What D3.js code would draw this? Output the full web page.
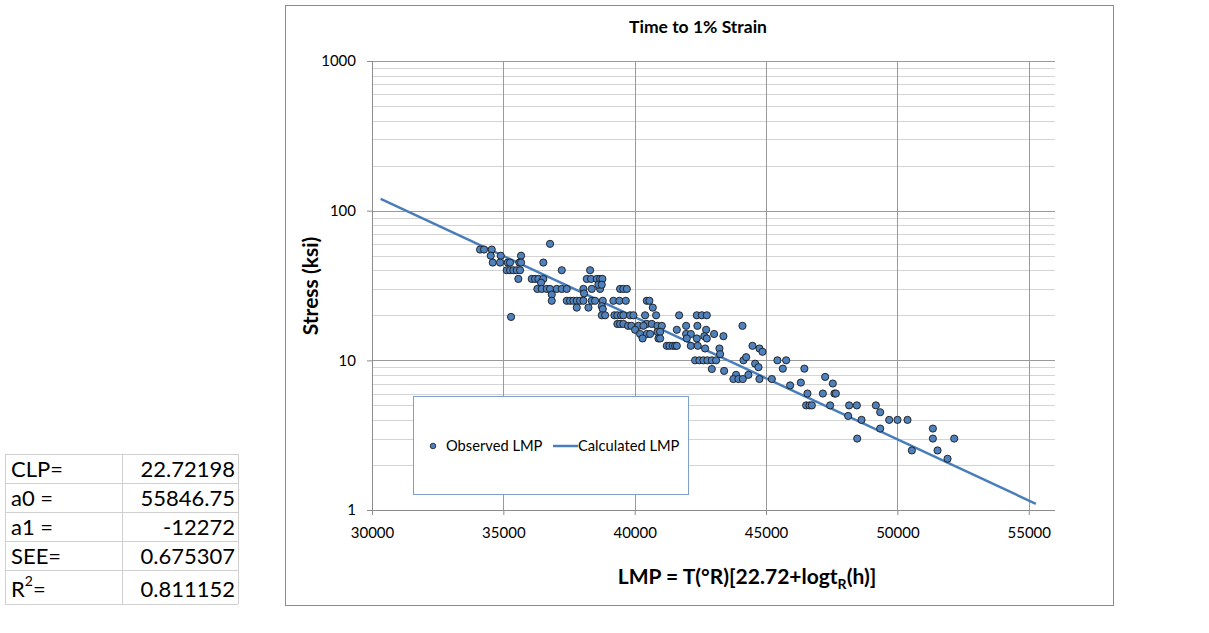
<!DOCTYPE html>
<html lang="en">
<head>
  <meta charset="UTF-8">
  <title>Time to 1% Strain</title>
  <script src="https://cdn.jsdelivr.net/npm/d3@7"></script>
  <style>
    body { margin: 0; background: #fff; }
    svg { font-family: Lato, 'Liberation Sans', Arial, sans-serif; }
    .axis text { font-size: 15px; fill: #000; font-family: Lato, sans-serif; }
    .axis path { display: none; }
    .title { font-size: 17.5px; font-weight: 700; }
    .axisLabel { font-size: 21px; font-weight: 700; }
    .tbl { font-size: 22px; }
  </style>
</head>
<body>
<div class="container"></div>
<script>
  // observed points, grouped by stress level (ksi) -> LMP values
  var obsStress = [
    55, 55, 55,
    50, 50, 50,
    45, 45, 45, 45, 45, 45, 45,
    40, 40, 40, 40, 40, 40, 40,
    35, 35, 35, 35, 35, 35, 35, 35, 35, 35,
    33, 60, 19.5,
    30, 30, 30, 30, 30, 30, 30, 30, 30, 30, 30, 30, 30,
    32, 32, 28, 27.5,
    25, 25, 25, 25, 25, 25, 25, 25, 25, 25, 25, 25, 25, 25, 25,
    22.5, 22.5, 22.5, 23, 22,
    20, 20, 20, 20, 20, 20, 20, 20, 20, 20, 20, 20, 20, 20,
    17.5, 17.5, 17.5, 17.5, 17.5,
    17, 17, 17, 17, 17, 17, 17, 17, 17,
    16, 16, 16, 15.5, 15.5,
    15, 15, 15, 15, 15, 15,
    14.5, 14.5, 14, 14, 14, 14, 14, 14,
    12.5, 12.5, 12.5, 12.5, 12.5, 12.5, 12.5, 12.5,
    12, 12, 12, 11.4, 11,
    10, 10, 10, 10, 10, 10, 10, 10, 10, 10.5,
    9.5, 9, 8.75, 8.8, 8.8, 8.5,
    8, 8, 7.5, 7.5, 7.5, 7.5, 7.5,
    7.75, 7.1, 7, 6.8,
    6, 6, 6, 6,
    5, 5, 5, 5, 5, 5, 5,
    4.5, 4.25, 4, 4, 4, 4,
    3.5, 3.5, 3, 3, 3,
    2.5, 2.5, 2.2
  ];
  var obsLMP = [
    34113, 34265, 34558,
    34520, 34901, 35674,
    34596, 34874, 35167, 35255, 35609, 35674, 36523,
    35129, 35255, 35381, 35510, 35636, 37224, 38302,
    35571, 36081, 36207, 36333, 36523, 38176, 38340, 38557, 38683, 38771,
    36435, 36778, 35293,
    36295, 36462, 36653, 36778, 37033, 37224, 37414, 38048, 38366, 38683, 39444, 39570, 39700,
    38618, 38747, 38073, 36843,
    36843, 37414, 37540, 37666, 37795, 37921, 38048, 38366, 38492, 38785, 39189, 39418, 39661, 40460, 40560,
    37795, 38239, 40689, 38747, 38785,
    38747, 38874, 39227, 39341, 39482, 39570, 39825, 39951, 40396, 40815, 41691, 42365, 42555, 42745,
    39341, 39444, 39570, 40460, 40651,
    39749, 39876, 40142, 40333, 40866, 41034, 41957, 42388, 44103,
    40015, 41604, 42719, 40866, 40968,
    40206, 40460, 40587, 41957, 43023, 42136,
    43378, 42650, 40904, 40968, 41984, 42365, 40300, 42745,
    41222, 41324, 41451, 41541, 41604, 42136, 44484, 42400,
    42681, 43226, 44750, 44864, 43251,
    42300, 42464, 42617, 42769, 42936, 43100, 44141, 45433, 45765, 44243,
    44585, 44712, 42936, 45639, 46459, 43404,
    43859, 44329, 43757, 43948, 44116, 44748, 45221,
    47250, 46325, 47541, 45917,
    46576, 47163, 47604, 47658,
    46527, 46653, 46744, 47441, 48164, 48457, 49181,
    49345, 48126, 48636, 49688, 50004, 50385,
    49345, 51351, 48471, 51351, 52163,
    50551, 51529, 51910
  ];
  var calcLMP = [30330, 55273];
  var calcStress = [120, 1.1];

  var xTicks = [30000, 35000, 40000, 45000, 50000, 55000];
  var yTicks = [1, 10, 100, 1000];
  var tableNames = ['CLP=', 'a0 =', 'a1 =', 'SEE=', 'R'];
  var tableValues = ['22.72198', '55846.75', '-12272', '0.675307', '0.811152'];

  var svgWidth = 1209, svgHeight = 633;
  var plot = {left: 372, right: 1055, top: 61, bottom: 510};

  var svg = d3.select('.container').append('svg')
      .attr('width', svgWidth).attr('height', svgHeight);

  // chart frame
  svg.append('rect')
     .attr('x', 285.5).attr('y', 5.5).attr('width', 828).attr('height', 600)
     .attr('fill', '#fff').attr('stroke', '#8c8c8c');

  var x = d3.scaleLinear().domain([30000, 56000]).range([plot.left, plot.right]);
  var y = d3.scaleLog().domain([1, 1000]).range([plot.bottom, plot.top]);

  // minor horizontal grid
  var minor = [];
  [1, 10, 100].forEach(function(d) {
    for (var k = 2; k <= 9; k++) minor.push(d * k);
  });
  svg.append('g').selectAll('line').data(minor).enter().append('line')
     .attr('x1', plot.left).attr('x2', plot.right)
     .attr('y1', d => Math.round(y(d)) + 0.5).attr('y2', d => Math.round(y(d)) + 0.5)
     .attr('stroke', '#d4d4d4').attr('stroke-width', 1);
  // major grid
  svg.append('g').selectAll('line').data(yTicks.slice(1)).enter().append('line')
     .attr('x1', plot.left).attr('x2', plot.right)
     .attr('y1', d => Math.round(y(d)) + 0.5).attr('y2', d => Math.round(y(d)) + 0.5)
     .attr('stroke', '#9a9a9a');
  svg.append('g').selectAll('line').data(xTicks.slice(1)).enter().append('line')
     .attr('y1', plot.top).attr('y2', plot.bottom)
     .attr('x1', d => Math.round(x(d)) + 0.5).attr('x2', d => Math.round(x(d)) + 0.5)
     .attr('stroke', '#9a9a9a');

  // axes
  var xAxis = d3.axisBottom(x).tickValues(xTicks).tickSize(5).tickFormat(d3.format('d'));
  var gx = svg.append('g').attr('class', 'axis')
     .attr('transform', `translate(0,${plot.bottom})`).call(xAxis);
  gx.selectAll('line').attr('stroke', '#8c8c8c');
  gx.selectAll('text').attr('y', 28).attr('dy', 0);
  var yAxis = d3.axisLeft(y).tickValues(yTicks).tickSize(5).tickFormat(d3.format('d'));
  var gy = svg.append('g').attr('class', 'axis')
     .attr('transform', `translate(${plot.left},0)`).call(yAxis);
  gy.selectAll('line').attr('stroke', '#8c8c8c');
  gy.selectAll('text').attr('x', -16);
  svg.append('line').attr('x1', plot.left + 0.5).attr('x2', plot.left + 0.5)
     .attr('y1', plot.top).attr('y2', plot.bottom).attr('stroke', '#8c8c8c');
  svg.append('line').attr('x1', plot.left).attr('x2', plot.right)
     .attr('y1', plot.bottom + 0.5).attr('y2', plot.bottom + 0.5).attr('stroke', '#8c8c8c');

  // title and labels
  svg.append('text').attr('class', 'title').attr('x', 698).attr('y', 33)
     .attr('text-anchor', 'middle').text('Time to 1% Strain');
  svg.append('text').attr('class', 'axisLabel')
     .attr('transform', 'translate(318,286) rotate(-90)')
     .attr('text-anchor', 'middle').text('Stress (ksi)');
  var xl = svg.append('text').attr('class', 'axisLabel').attr('x', 747).attr('y', 584)
     .attr('text-anchor', 'middle');
  xl.append('tspan').text('LMP = T(°R)[22.72+logt');
  xl.append('tspan').attr('font-size', 14).attr('dy', 5).text('R');
  xl.append('tspan').attr('dy', -5).text('(h)]');

  // fitted line
  var line = d3.line().x((d, i) => x(calcLMP[i])).y(d => y(d));
  svg.append('path').datum(calcStress).attr('d', line)
     .attr('fill', 'none').attr('stroke', '#4a7ebb').attr('stroke-width', 2.5);

  // points
  svg.append('g').selectAll('circle').data(obsLMP).enter().append('circle')
     .attr('cx', d => x(d)).attr('cy', (d, i) => y(obsStress[i])).attr('r', 3.6)
     .attr('fill', '#4f81bd').attr('stroke', '#1a1a1a').attr('stroke-width', 0.9);

  // legend
  var lg = svg.append('g');
  lg.append('rect').attr('x', 413.5).attr('y', 396.5).attr('width', 275).attr('height', 98)
    .attr('fill', '#fff').attr('stroke', '#7f9fcf');
  lg.append('circle').attr('cx', 433).attr('cy', 446).attr('r', 2.8)
    .attr('fill', '#4f81bd').attr('stroke', '#1a1a1a').attr('stroke-width', 0.8);
  lg.append('text').attr('x', 446).attr('y', 451).attr('font-size', 14.7).text('Observed LMP');
  lg.append('line').attr('x1', 553).attr('x2', 578).attr('y1', 446).attr('y2', 446)
    .attr('stroke', '#4a7ebb').attr('stroke-width', 2.5);
  lg.append('text').attr('x', 578).attr('y', 451).attr('font-size', 14.7).text('Calculated LMP');

  // parameter table
  var rowY = [454, 483, 512, 541, 570, 604];
  var tbl = svg.append('g').attr('class', 'tbl');
  rowY.forEach(function(r) {
    tbl.append('line').attr('x1', 5).attr('x2', 238).attr('y1', r + 0.5).attr('y2', r + 0.5)
       .attr('stroke', '#d0d0d0');
  });
  [5, 122, 238].forEach(function(c) {
    tbl.append('line').attr('x1', c + 0.5).attr('x2', c + 0.5).attr('y1', 454).attr('y2', 604)
       .attr('stroke', '#d0d0d0');
  });
  tableNames.forEach(function(n, i) {
    var ty = rowY[i] + 23 + (i === 4 ? 4 : 0);
    var t = tbl.append('text').attr('x', 11).attr('y', ty).text(n);
    if (i === 4) {
      t.append('tspan').attr('font-size', 14).attr('dy', -11).text('2');
      t.append('tspan').attr('dy', 11).text('=');
    }
    tbl.append('text').attr('x', 235).attr('y', ty)
       .attr('text-anchor', 'end').text(tableValues[i]);
  });
</script>
</body>
</html>
